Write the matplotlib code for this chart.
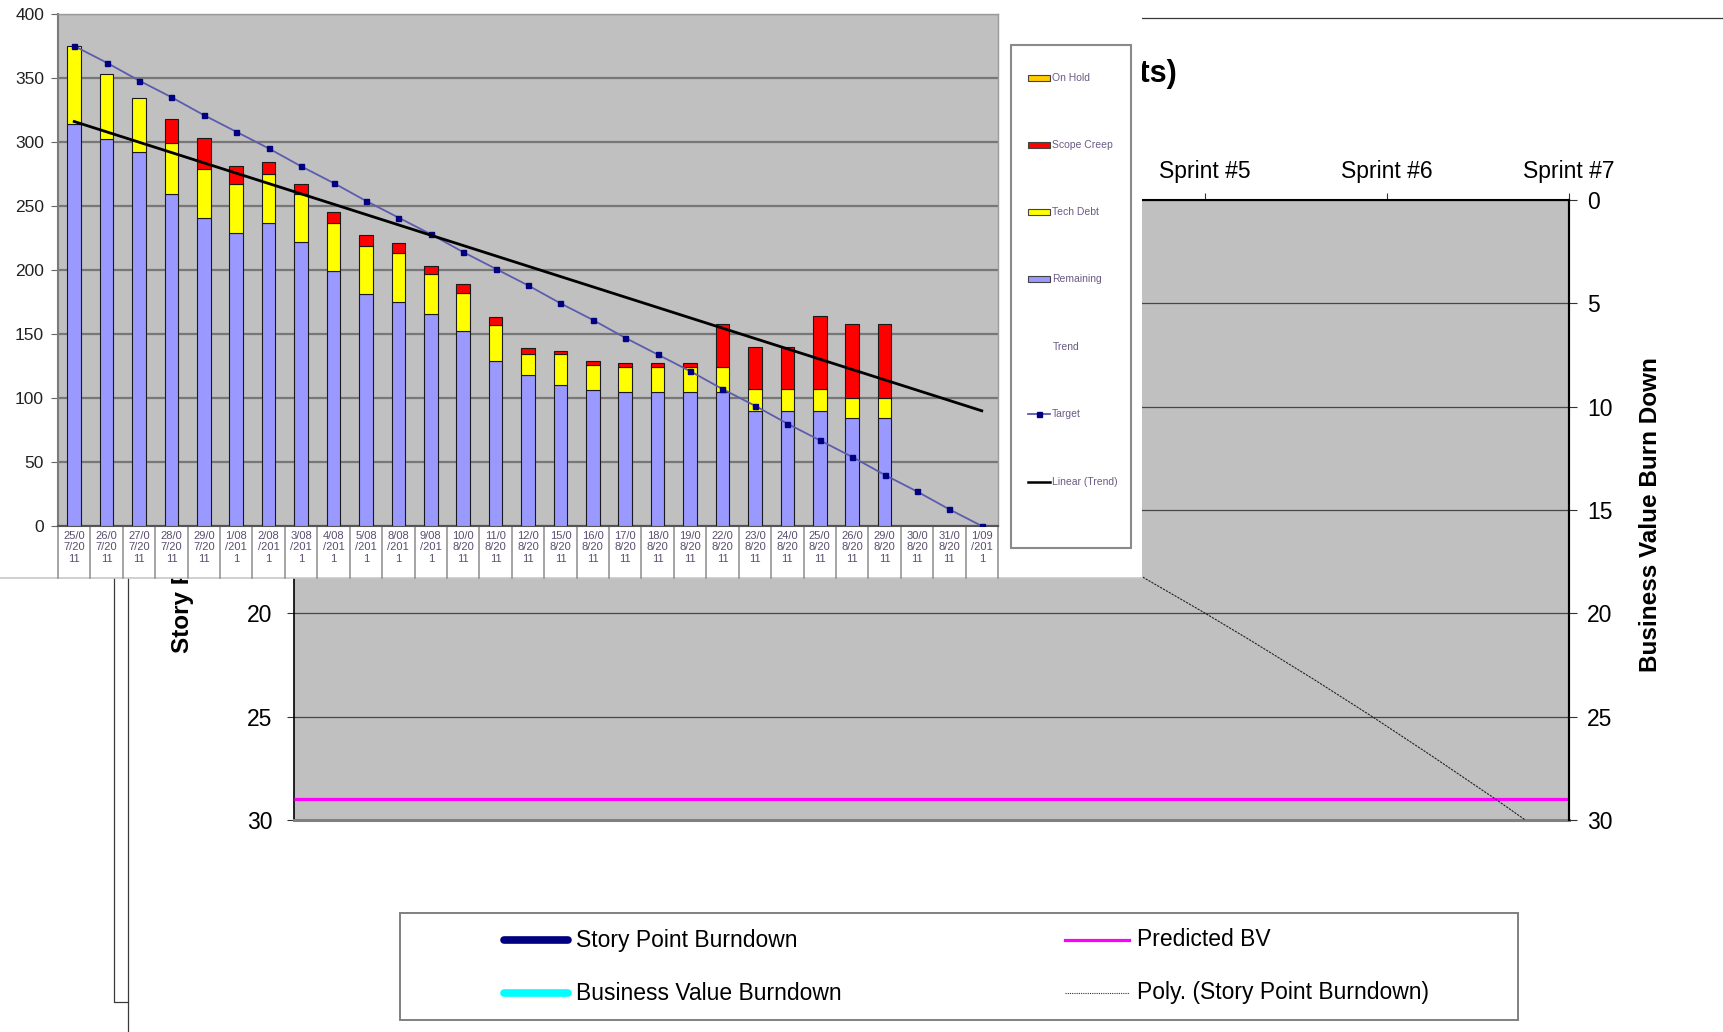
"""Release burn down: business value chart with the daily story point
breakdown chart pasted over its upper-left corner."""
import numpy as np
import matplotlib
matplotlib.use("Agg")
import matplotlib.pyplot as plt
from matplotlib.lines import Line2D
from matplotlib.patches import Rectangle
from matplotlib.transforms import blended_transform_factory
from matplotlib import font_manager

W, H = 1724, 1032

# ---- daily story point breakdown (front chart) ----
dates = ["25/07/2011", "26/07/2011", "27/07/2011", "28/07/2011", "29/07/2011",
         "1/08/2011", "2/08/2011", "3/08/2011", "4/08/2011", "5/08/2011",
         "8/08/2011", "9/08/2011", "10/08/2011", "11/08/2011", "12/08/2011",
         "15/08/2011", "16/08/2011", "17/08/2011", "18/08/2011", "19/08/2011",
         "22/08/2011", "23/08/2011", "24/08/2011", "25/08/2011", "26/08/2011",
         "29/08/2011", "30/08/2011", "31/08/2011", "1/09/2011"]
# bars only exist up to 29/08
remaining = [314, 302, 292, 259, 241, 229, 237, 222, 199, 181, 175, 166, 152,
             129, 118, 110, 106, 105, 105, 105, 105, 90, 90, 90, 84, 84]
tech_debt = [61, 51, 42, 40, 38, 38, 38, 37, 38, 38, 38, 31, 30,
             28, 16, 24, 20, 19, 19, 19, 19, 17, 17, 17, 16, 16]
scope_creep = [0, 0, 0, 19, 24, 14, 9, 8, 8, 8, 8, 6, 7,
               6, 5, 3, 3, 3, 3, 3, 34, 33, 33, 57, 58, 58]
on_hold = [0, 0, 0, 0, 0, 0, 0, 0, 0, 0, 0, 0, 0,
           0, 0, 0, 0, 0, 0, 0, 0, 0, 0, 0, 0, 0]
target = [375, 362, 348, 335, 321, 308, 295, 281, 268, 254, 241, 228, 214, 201,
          188, 174, 161, 147, 134, 121, 107, 94, 80, 67, 54, 40, 27, 13, 0]
trend_days = [0, 28]
trend_ends = [316, 90]

# ---- business value chart (back) ----
sprints = ["Start", "Sprint #1", "Sprint #2", "Sprint #3", "Sprint #4",
           "Sprint #5", "Sprint #6", "Sprint #7"]
predicted_bv = [29, 29, 29, 29, 29, 29, 29, 29]
poly_x = [4.66, 4.99, 5.25, 5.6, 5.92, 6.25, 6.59, 6.76]
poly_y = [18.25, 19.93, 21.3, 23.2, 25.0, 26.92, 28.95, 30.0]

available = {f.name for f in font_manager.fontManager.ttflist}
SANS = "Liberation Sans" if "Liberation Sans" in available else "DejaVu Sans"
NARROW = "Liberation Sans Narrow" if "Liberation Sans Narrow" in available else SANS
plt.rcParams["font.family"] = SANS


def box(l, t, r, b):
    """pixel box (top-left origin) -> figure fraction rect"""
    return [l / W, 1 - b / H, (r - l) / W, (b - t) / H]


fig = plt.figure(figsize=(W / 100, H / 100), dpi=100)

# ================= back chart =================
ax = fig.add_axes(box(294, 200, 1569, 820), zorder=0)
ax.set_facecolor("#C0C0C0")
xs = np.arange(len(sprints))
ax.plot(xs, predicted_bv, color="#FF00FF", lw=2.3, solid_capstyle="butt", zorder=3)
ax.plot(poly_x, poly_y, color="#222222", lw=0.8, ls=(0, (2, 1)), zorder=3)
ax.set_xlim(0, len(sprints) - 1)
ax.set_ylim(30, 0)
ax.set_yticks(range(0, 31, 5))
ax.yaxis.grid(True, color="#474747", lw=0.9)
ax.set_axisbelow(True)
ax.xaxis.tick_top()
ax.set_xticks(xs, sprints)
ax.tick_params(axis="x", direction="out", length=5, pad=7, labelsize=16.5, color="#333333")
ax.tick_params(axis="y", direction="out", length=5, pad=10.5, labelsize=16.5, color="#333333")
for side, col, lw in [("top", "black", 1.5), ("left", "black", 1.2),
                      ("right", "black", 1.5), ("bottom", "#808080", 2.2)]:
    ax.spines[side].set_color(col)
    ax.spines[side].set_linewidth(lw)

ax_r = ax.twinx()
ax_r.set_ylim(30, 0)
ax_r.set_yticks(range(0, 31, 5))
ax_r.tick_params(axis="y", direction="out", length=6, pad=7, labelsize=16.5, color="#333333")
ax_r.spines["right"].set_linewidth(1.5)
for side in ["top", "left", "bottom"]:
    ax_r.spines[side].set_visible(False)

# labels, legend and chart border drawn in pixel space
cv = fig.add_axes([0, 0, 1, 1], zorder=1)
cv.set_xlim(0, W)
cv.set_ylim(H, 0)
cv.axis("off")
cv.patch.set_alpha(0)

cv.text(1177, 74, "Release Burn Down (Business Value vs Story Points)",
        ha="right", va="center", fontsize=22, fontweight="bold")
cv.text(183, 520, "Story Point Burn Down", rotation=90, ha="center", va="center",
        fontsize=17.5, fontweight="bold")
cv.text(1651, 515, "Business Value Burn Down", rotation=90, ha="center", va="center",
        fontsize=17.5, fontweight="bold")

cv.plot([128, W], [18, 18], color="#3a3a3a", lw=0.9)
cv.plot([128, 128], [18, H], color="#3a3a3a", lw=0.9)
cv.plot([114, 114, 128], [32, 1002, 1002], color="#3a3a3a", lw=0.9)

cv.add_patch(Rectangle((400, 913), 1118, 107, fc="white", ec="#808080", lw=1.4))
legend_rows = [
    (500, 940, "Story Point Burndown", dict(color="#000080", lw=5.5, solid_capstyle="round")),
    (500, 993, "Business Value Burndown", dict(color="#00FFFF", lw=5.5, solid_capstyle="round")),
    (1061, 940, "Predicted BV", dict(color="#FF00FF", lw=2.3)),
    (1061, 993, "Poly. (Story Point Burndown)", dict(color="#333333", lw=0.8, ls=(0, (1, 1)))),
]
for x0, y0, label, style in legend_rows:
    cv.plot([x0 + 4, x0 + 68], [y0, y0], **style)
    cv.text(x0 + 76, y0, label, ha="left", va="center", fontsize=16.5)

# ================= front chart (pasted) =================
ax_w = fig.add_axes(box(0, 0, 1142, 578), zorder=5)
ax_w.set_facecolor("white")
ax_w.set_xlim(0, 1142)
ax_w.set_ylim(578, 0)
ax_w.set_xticks([])
ax_w.set_yticks([])
for side in ["top", "left", "right"]:
    ax_w.spines[side].set_visible(False)
ax_w.spines["bottom"].set_color("#c8c8c8")
ax_w.spines["bottom"].set_linewidth(1.2)

ax_sp = fig.add_axes(box(58, 14, 998, 526), zorder=6)
ax_sp.set_facecolor("#C0C0C0")
days = np.arange(len(remaining))
base = np.zeros(len(days))
for vals, color in [(remaining, "#9999FF"), (tech_debt, "#FFFF00"),
                    (scope_creep, "#FF0000"), (on_hold, "#FFCC00")]:
    vals = np.asarray(vals, dtype=float)
    keep = vals > 0
    ax_sp.bar(days[keep], vals[keep], bottom=base[keep], width=0.42,
              color=color, edgecolor="#1a1a1a", lw=0.8, zorder=3)
    base += vals

ax_sp.plot(np.arange(len(target)), target, color="#5c5cae", lw=1.3, marker="s", ms=3.6,
           mfc="#000080", mec="#000080", zorder=4)
ax_sp.plot(trend_days, trend_ends, color="black", lw=2.0, zorder=5)

ax_sp.set_xlim(-0.5, len(dates) - 0.5)
ax_sp.set_ylim(0, 400)
ax_sp.set_yticks(range(0, 401, 50))
ax_sp.yaxis.grid(True, color="#777777", lw=1.6)
ax_sp.set_axisbelow(True)
wrapped = ["\n".join(d[i:i + 4] for i in range(0, len(d), 4)) for d in dates]
ax_sp.set_xticks(np.arange(len(dates)), wrapped)
ax_sp.tick_params(axis="x", length=0, pad=3.5, labelsize=8, labelcolor="#5a4d6e")
ax_sp.tick_params(axis="y", length=5, pad=5, labelsize=12.5, labelcolor="#222222", color="#666666")
for lbl in ax_sp.get_xticklabels():
    lbl.set_fontfamily(NARROW)
    lbl.set_linespacing(1.2)
for side, col, lw in [("left", "#7a7a7a", 1.5), ("bottom", "#555555", 1.5),
                      ("top", "#9a9a9a", 1.0), ("right", "#9a9a9a", 1.0)]:
    ax_sp.spines[side].set_color(col)
    ax_sp.spines[side].set_linewidth(lw)

# cell separators under the date labels
sep = blended_transform_factory(ax_sp.transData, ax_sp.transAxes)
depth = (578 - 526) / (526 - 14)
for k in range(len(dates) + 1):
    ax_sp.plot([k - 0.5, k - 0.5], [0, -depth], transform=sep, clip_on=False,
               color="#8c8c8c", lw=1.1)

# legend of the front chart
ax_w.add_patch(Rectangle((1011, 45), 120, 503, fc="white", ec="#8a8a8a", lw=1.5, zorder=2))
leg_text = dict(fontsize=7.5, color="#6a5a86", ha="left", va="center", zorder=4)
patch_rows = [(78, "On Hold", "#FFCC00"), (145, "Scope Creep", "#FF0000"),
              (212, "Tech Debt", "#FFFF00"), (279, "Remaining", "#9999FF")]
for y0, label, color in patch_rows:
    ax_w.add_patch(Rectangle((1028, y0 - 3), 22, 6, fc=color, ec="#444444", lw=0.8, zorder=3))
    ax_w.text(1052, y0, label, **leg_text)
ax_w.text(1053, 347, "Trend", **leg_text)
ax_w.add_line(Line2D([1028, 1050], [414, 414], color="#5c5cae", lw=1.3, zorder=3))
ax_w.add_line(Line2D([1039], [414], marker="s", ms=3.6, mfc="#000080", mec="#000080", zorder=3))
ax_w.text(1052, 414, "Target", **leg_text)
ax_w.add_line(Line2D([1028, 1050], [482, 482], color="black", lw=1.8, zorder=3))
ax_w.text(1052, 482, "Linear (Trend)", **leg_text)

fig.savefig("out.png", dpi=100)
print("Wrote out.png")
